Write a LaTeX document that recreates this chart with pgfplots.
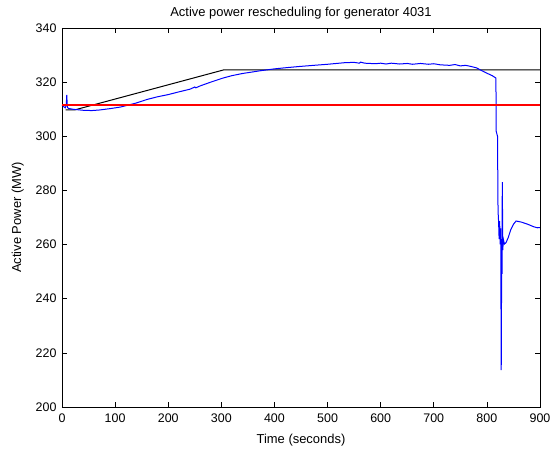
\documentclass[border=0pt]{standalone}
\usepackage{pgfplots}
\pgfplotsset{compat=1.18}
\usepackage{fontspec}
\setmainfont{Liberation Sans}
\definecolor{mred}{RGB}{255,0,0}
\definecolor{mblue}{RGB}{0,0,255}
\begin{document}
\begin{tikzpicture}
\begin{axis}[
  at={(0,0)}, anchor=south west,
  scale only axis,
  width=478bp, height=379bp,
  xmin=0, xmax=900, ymin=200, ymax=340,
  xtick={0,100,...,900}, ytick={200,220,...,340},
  tick align=inside,
  major tick length=5bp,
  axis line style={black, line width=0.6bp},
  every tick/.style={black, line width=0.6bp},
  /pgf/number format/assume math mode=true,
  ticklabel style={font=\fontsize{12.5}{14}\selectfont},
  xticklabel style={yshift=-3bp},
  yticklabel style={xshift=-2bp},
  label style={font=\fontsize{13}{15}\selectfont},
  title style={font=\fontsize{13}{15}\selectfont},
  title={Active power rescheduling for generator 4031},
  xlabel={Time (seconds)},
  ylabel={Active Power (MW)},
  xlabel style={yshift=-5bp},
  ylabel style={yshift=5bp},
  title style={yshift=-1bp},
  clip=true,
]
\addplot[draw=black, line width=1bp] coordinates {(7,309.8) (25,309.8) (304,324.5) (900,324.5)};
\addplot[draw=mblue, line width=1bp] coordinates {
(0,311.5) (3,311.0) (6,310.5) (8,311.5) (9,315.3) (10,310.8) (12,310.3) (20,310.0)
(30,309.8) (40,309.6) (56,309.5) (70,309.7) (90,310.2) (110,310.8) (120,311.3)
(140,312.3) (160,313.6) (180,314.6) (200,315.4) (220,316.4) (241,317.4) (250,318.2) (252,317.9) (260,318.6)
(280,320.0) (303,321.5) (320,322.4) (340,323.2) (360,323.8) (373,324.2) (400,324.9)
(420,325.3) (448,325.8) (480,326.3) (500,326.6) (533,327.2) (550,327.3) (560,327.0) (562,327.4) (570,327.0)
(590,326.8) (600,327.0) (610,326.7) (620,327.0) (636,326.7) (650,326.9) (660,326.6) (675,326.9) (690,326.6) (700,326.8) (712,326.4) (730,326.2)
(740,326.5) (750,326.0) (760,326.2) (770,325.8) (780,325.3) (789,324.4) (800,323.3) (810,322.4)
(817,321.5) (817.6,301.8) (820,300) (821,272.4) (822,268.7) (823,262) (824,268.7)
(825,260.1) (826,266) (827,213.6) (828,262) (828.5,249.2) (829,283.1) (830,258)
(831,262) (833,260.2) (836,260.7) (840,262.5) (845,265.5) (850,267.5) (855,268.7)
(865,268.3) (877,267.5) (888,266.6) (895,266.2) (900,266.3)
};
\addplot[draw=mred, line width=2bp] coordinates {(0,311.4) (900,311.4)};
\end{axis}
\pgfresetboundingbox
\path[use as bounding box] (-62bp,-43bp) rectangle (492bp,407bp);
\end{tikzpicture}
\end{document}
